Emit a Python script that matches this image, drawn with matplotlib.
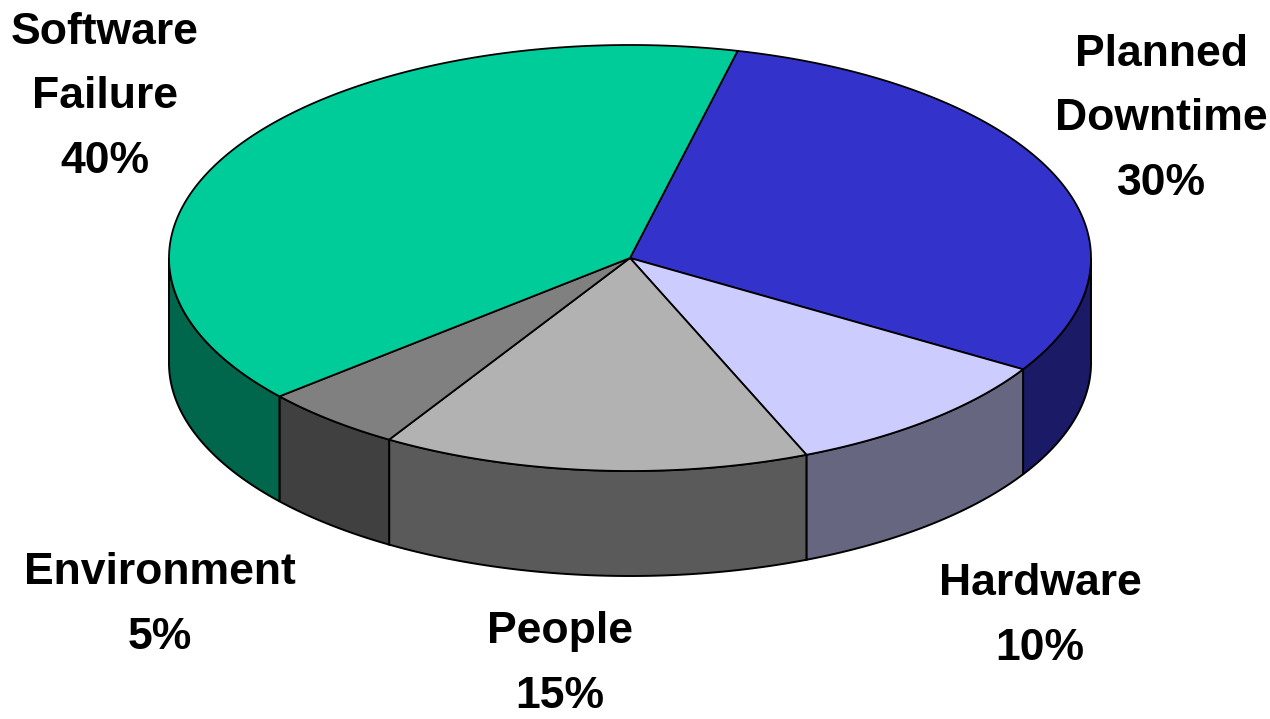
import numpy as np
import matplotlib.pyplot as plt
from matplotlib.patches import Polygon
from matplotlib import font_manager

# data
labels = ["Planned\nDowntime\n30%", "Hardware\n10%", "People\n15%",
          "Environment\n5%", "Software\nFailure\n40%"]
shares = [30, 10, 15, 5, 40]
top_colors = ["#3333CC", "#CCCCFF", "#B2B2B2", "#808080", "#00CC99"]
side_colors = ["#1A1A66", "#666680", "#5A5A5A", "#404040", "#00664C"]
label_pos = [(1161, 119), (1040, 616), (560, 664), (160, 605), (105, 97)]

# pie geometry (pixel space)
cx, cy = 630, 258
rx, ry = 461, 213
depth = 105
start = 76.5

names = {f.name for f in font_manager.fontManager.ttflist}
fam = ["Liberation Sans Narrow", "Liberation Sans", "DejaVu Sans"]
fam = [f for f in fam if f in names] or ["DejaVu Sans"]


def arc(t0, t1, n=200, dy=0):
    t = np.deg2rad(np.linspace(t0, t1, n))
    return np.column_stack([cx + rx * np.cos(t), cy - ry * np.sin(t) + dy])


fig = plt.figure(figsize=(12.7, 7.19), dpi=100)
ax = fig.add_axes([0, 0, 1, 1])
ax.set_xlim(0, 1270)
ax.set_ylim(719, 0)
ax.axis("off")

fracs = np.array(shares, dtype=float) / sum(shares) * 360
bounds = start - np.concatenate([[0], np.cumsum(fracs)])

# side walls (front half only)
for i in range(len(shares)):
    a, b = bounds[i], bounds[i + 1]   # a > b, clockwise
    for k in (-1, 0, 1):
        lo, hi = -180 + 360 * k, 0 + 360 * k
        s, e = min(a, hi), max(b, lo)
        if s <= e:
            continue
        top = arc(s, e)
        bot = arc(e, s, dy=depth)
        ax.add_patch(Polygon(np.vstack([top, bot]), closed=True,
                             facecolor=side_colors[i], edgecolor="black",
                             lw=1.4, zorder=1))

# top faces
for i in range(len(shares)):
    pts = np.vstack([[cx, cy], arc(bounds[i], bounds[i + 1])])
    ax.add_patch(Polygon(pts, closed=True, facecolor=top_colors[i],
                         edgecolor="black", lw=1.3, zorder=2))

for lab, (x, y) in zip(labels, label_pos):
    ax.text(x, y, lab, ha="center", va="center", fontsize=32,
            fontweight="bold", family=fam, linespacing=1.72, zorder=3)

fig.savefig("out.png", dpi=100)
